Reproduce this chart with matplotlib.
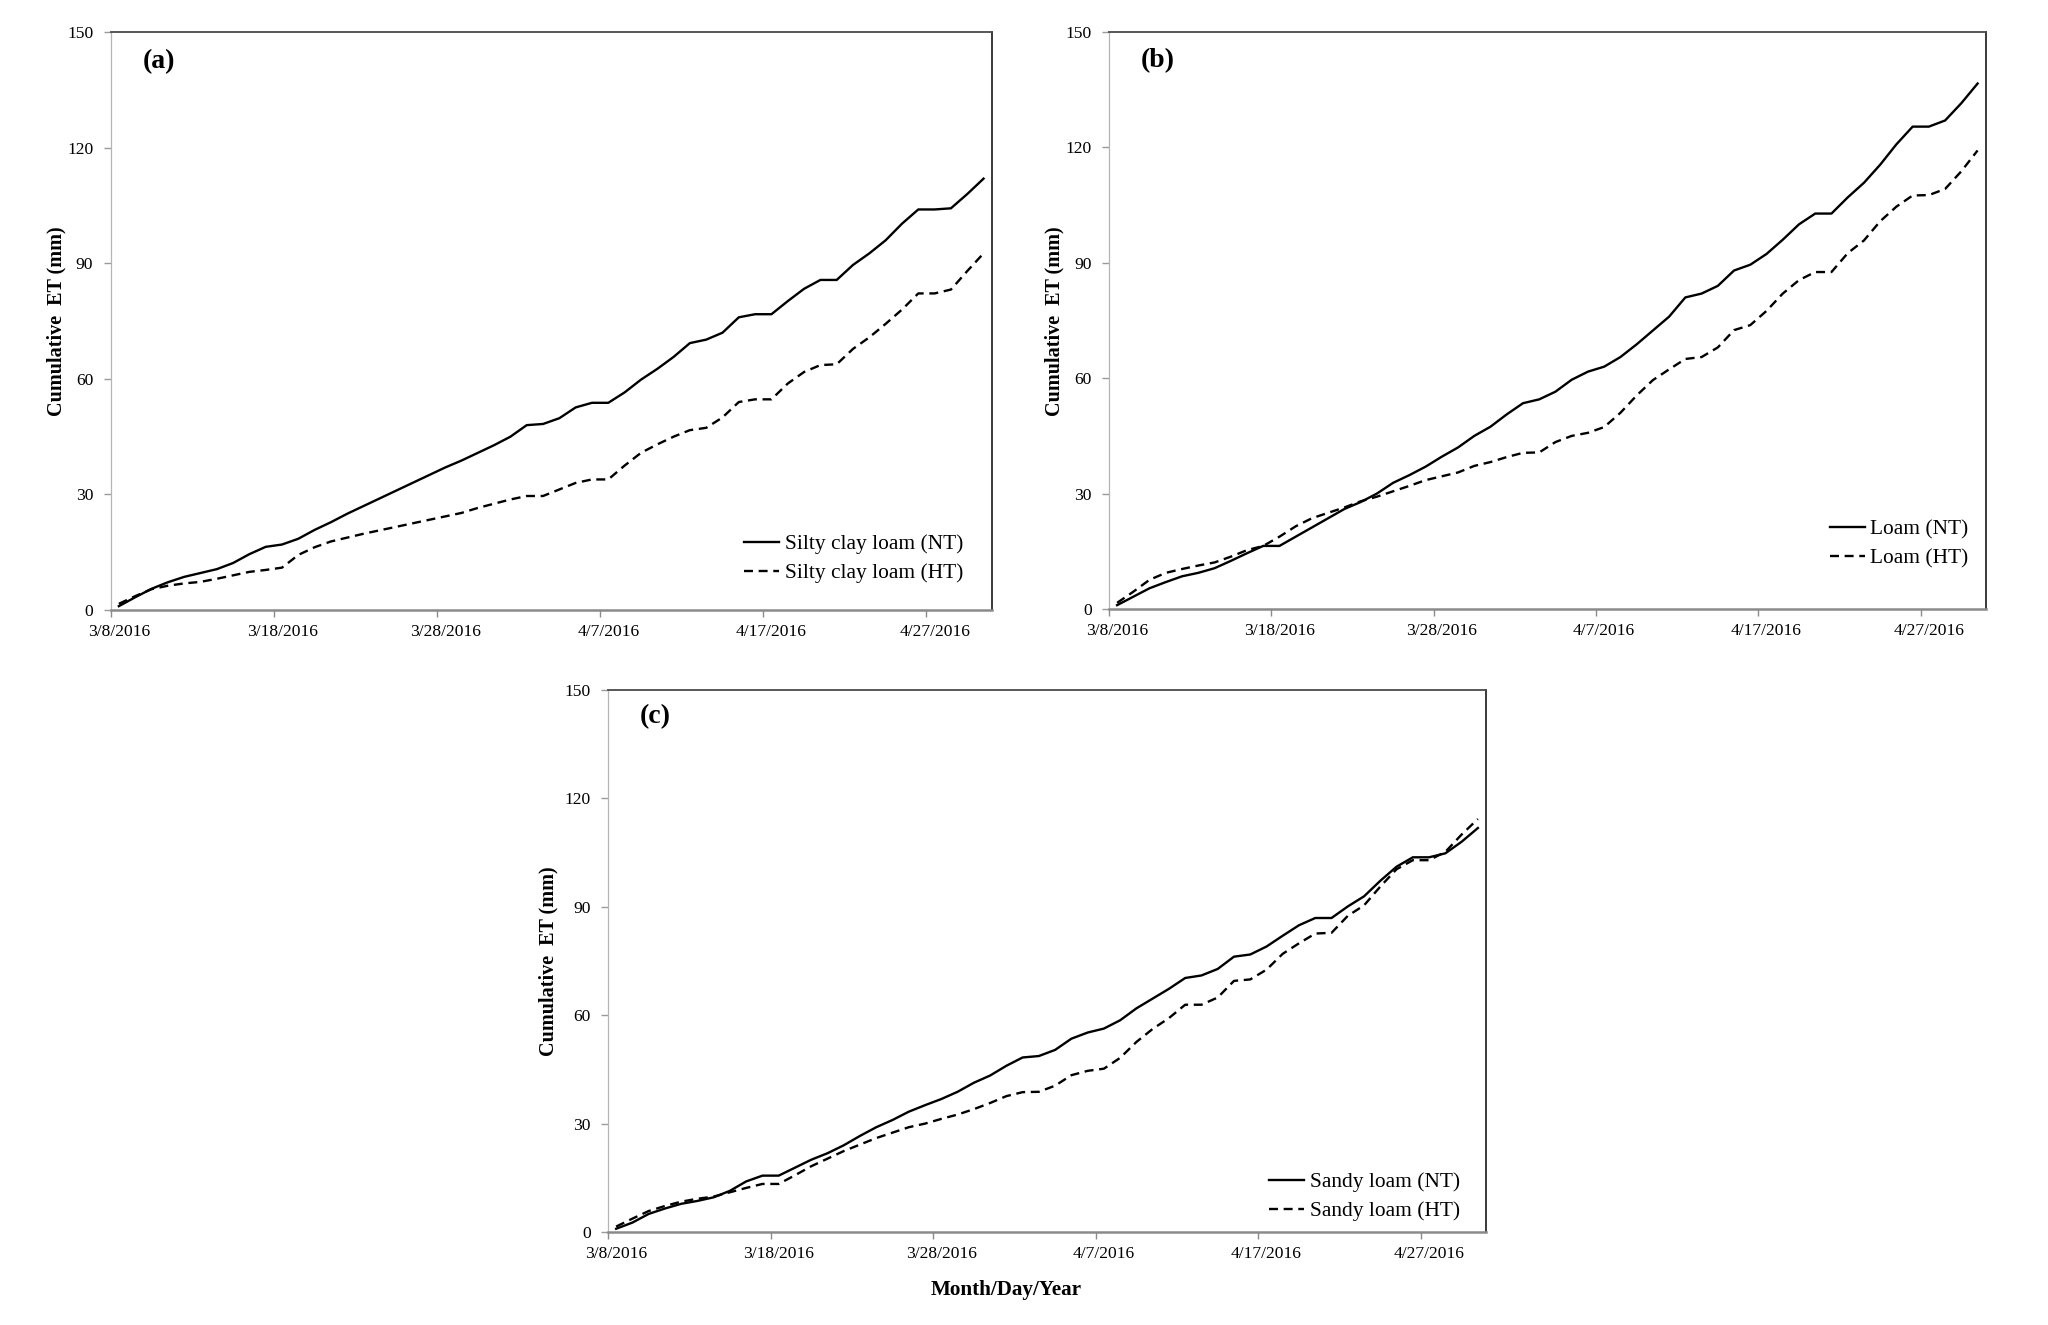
import matplotlib
matplotlib.use("Agg")
import matplotlib.pyplot as plt

W, H = 2048, 1325

# ---- data (daily values, 3/8/2016 .. 4/30/2016) ----
dates = ["3/%d/2016" % d for d in range(8, 32)] + ["4/%d/2016" % d for d in range(1, 31)]
tick_labels = ["3/8/2016", "3/18/2016", "3/28/2016", "4/7/2016", "4/17/2016", "4/27/2016"]
y_ticks = [0, 30, 60, 90, 120, 150]

silty_nt = [1.0, 3.3, 5.5, 7.2, 8.6, 9.6, 10.6, 12.2, 14.5, 16.4,
            17.0, 18.5, 20.8, 22.8, 25.0, 27.0, 29.0, 31.0, 33.0, 35.0,
            37.0, 38.8, 40.8, 42.8, 45.0, 48.0, 48.3, 49.8, 52.6, 53.8,
            53.8, 56.5, 59.8, 62.6, 65.7, 69.3, 70.2, 72.0, 76.0, 76.8,
            76.8, 80.2, 83.4, 85.7, 85.7, 89.6, 92.6, 96.0, 100.3, 104.0,
            104.0, 104.3, 108.0, 112.0]
silty_ht = [1.6, 3.6, 5.4, 6.3, 6.9, 7.3, 8.1, 9.0, 9.9, 10.4,
            11.0, 14.3, 16.3, 17.8, 18.8, 19.8, 20.7, 21.6, 22.5, 23.4,
            24.3, 25.2, 26.5, 27.6, 28.7, 29.6, 29.6, 31.3, 33.0, 33.9,
            33.9, 37.5, 40.8, 43.0, 45.0, 46.7, 47.3, 50.0, 54.0, 54.7,
            54.7, 58.8, 61.8, 63.6, 63.8, 67.8, 70.8, 74.3, 78.0, 82.2,
            82.2, 83.2, 88.0, 92.6]
loam_nt = [1.0, 3.2, 5.4, 7.0, 8.5, 9.4, 10.6, 12.5, 14.5, 16.4,
           16.4, 18.8, 21.2, 23.6, 26.0, 27.8, 30.0, 32.8, 34.8, 37.0,
           39.6, 42.0, 45.0, 47.4, 50.6, 53.5, 54.5, 56.5, 59.6, 61.7,
           63.0, 65.5, 68.8, 72.4, 76.0, 81.0, 82.0, 84.0, 88.0, 89.5,
           92.3, 96.0, 100.0, 102.8, 102.8, 107.0, 110.8, 115.5, 120.8, 125.4,
           125.4, 127.0, 131.5, 136.6]
loam_ht = [1.6, 4.5, 7.6, 9.4, 10.4, 11.3, 12.1, 13.6, 15.3, 16.4,
           18.8, 21.5, 23.6, 25.0, 26.4, 28.0, 29.2, 30.6, 32.0, 33.5,
           34.5, 35.5, 37.2, 38.2, 39.5, 40.6, 40.7, 43.4, 45.0, 45.8,
           47.3, 51.0, 55.5, 59.5, 62.3, 65.0, 65.5, 68.0, 72.5, 73.8,
           77.5, 82.0, 85.5, 87.6, 87.6, 92.5, 95.8, 100.8, 104.6, 107.5,
           107.6, 109.2, 113.8, 119.2]
sandy_nt = [0.9, 2.6, 5.0, 6.5, 7.8, 8.6, 9.6, 11.4, 14.0, 15.6,
            15.6, 17.8, 20.0, 21.8, 24.0, 26.6, 29.0, 31.0, 33.3, 35.1,
            36.8, 38.8, 41.3, 43.3, 46.0, 48.3, 48.7, 50.4, 53.5, 55.2,
            56.3, 58.6, 61.9, 64.6, 67.3, 70.3, 71.0, 72.8, 76.2, 76.8,
            79.0, 82.0, 84.9, 86.9, 86.9, 90.1, 92.9, 97.2, 101.1, 103.7,
            103.7, 104.8, 108.0, 111.8]
sandy_ht = [1.5, 3.7, 5.8, 7.2, 8.4, 9.2, 9.8, 11.0, 12.2, 13.3,
            13.3, 15.7, 18.2, 20.3, 22.4, 24.2, 26.0, 27.5, 29.0, 30.0,
            31.3, 32.5, 34.0, 35.7, 37.6, 38.7, 38.8, 40.5, 43.4, 44.6,
            45.2, 48.2, 52.6, 56.2, 59.2, 62.9, 62.9, 64.9, 69.5, 69.9,
            72.6, 77.0, 79.9, 82.6, 82.8, 87.5, 90.4, 95.6, 100.4, 102.9,
            102.9, 105.2, 110.0, 114.3]

panels = [
    dict(tag="(a)", nt=silty_nt, ht=silty_ht,
         labels=["Silty clay loam (NT)", "Silty clay loam (HT)"],
         box=(110.7, 32.3, 991.7, 610.0), ylab=(56, 321), leg=(0.9674, 0.046)),
    dict(tag="(b)", nt=loam_nt, ht=loam_ht,
         labels=["Loam (NT)", "Loam (HT)"],
         box=(1109.0, 32.0, 1985.7, 609.0), ylab=(1054, 321), leg=(0.9805, 0.07)),
    dict(tag="(c)", nt=sandy_nt, ht=sandy_ht,
         labels=["Sandy loam (NT)", "Sandy loam (HT)"],
         box=(608.0, 690.0, 1486.0, 1232.0), ylab=(548, 961), leg=(0.97, 0.02)),
]

FONT = "Liberation Serif"
plt.rcParams["font.family"] = [FONT, "DejaVu Serif"]

fig = plt.figure(figsize=(W / 100, H / 100), dpi=100)
fig.patch.set_facecolor("white")

x = list(range(len(dates)))
tick_pos = [dates.index(t) for t in tick_labels]
LW = 1.7

for p in panels:
    l, t, r, b = p["box"]
    ax = fig.add_axes([l / W, 1 - b / H, (r - l) / W, (b - t) / H])
    ax.plot(x, p["nt"], color="black", lw=LW, solid_joinstyle="round", label=p["labels"][0])
    ax.plot(x, p["ht"], color="black", lw=LW, dashes=(3.8, 2.4), label=p["labels"][1])
    ax.set_xlim(-0.5, len(dates) - 0.5)
    ax.set_ylim(0, 150)
    ax.set_yticks(y_ticks)
    ax.set_yticklabels([str(v) for v in y_ticks])
    ax.set_xticks([tp - 0.5 for tp in tick_pos])
    ax.set_xticklabels([])
    ax.set_xticks(tick_pos, minor=True)
    ax.set_xticklabels(tick_labels, minor=True)
    ax.tick_params(axis="x", which="major", direction="out", length=5, width=1, color="#8c8c8c")
    ax.tick_params(axis="x", which="minor", length=0, pad=10, labelsize=12.6)
    ax.tick_params(axis="y", direction="out", length=5, width=1, color="#9a9a9a",
                   pad=7.5, labelsize=12.6)
    ax.spines["left"].set_color("#b5b5b5")
    ax.spines["left"].set_linewidth(0.9)
    ax.spines["bottom"].set_color("#8a8a8a")
    ax.spines["bottom"].set_linewidth(1.8)
    ax.spines["top"].set_color("#4a4a4a")
    ax.spines["top"].set_linewidth(1.3)
    ax.spines["right"].set_color("#2a2a2a")
    ax.spines["right"].set_linewidth(1.3)

    ax.text(0.036, 0.95, p["tag"], transform=ax.transAxes, ha="left", va="center",
            fontsize=20, fontweight="bold")
    ax.legend(loc="lower right", bbox_to_anchor=p["leg"], frameon=False,
              fontsize=15.4, handlelength=1.65, handletextpad=0.25,
              labelspacing=0.42, borderpad=0, borderaxespad=0)

    fig.text(p["ylab"][0] / W, 1 - p["ylab"][1] / H, "Cumulative  ET (mm)",
             rotation=90, ha="center", va="center", fontsize=14.5, fontweight="bold")

fig.text(1006 / W, 1 - 1290 / H, "Month/Day/Year", ha="center", va="center",
         fontsize=15.2, fontweight="bold")

fig.savefig("out.png", dpi=100, facecolor="white")
